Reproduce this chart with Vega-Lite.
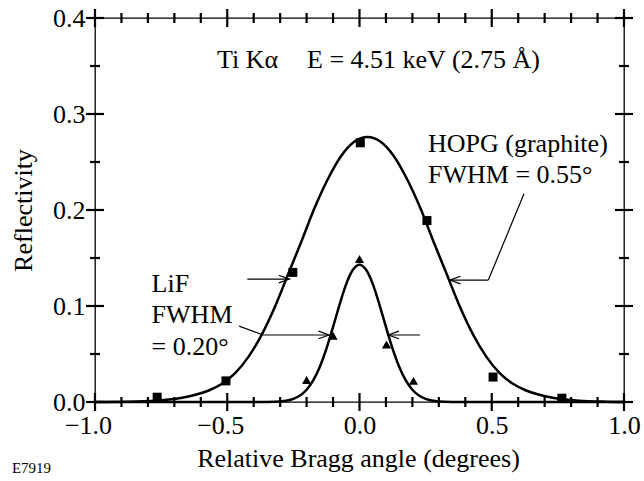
{
  "$schema": "https://vega.github.io/schema/vega-lite/v6.json",
  "width": 529,
  "height": 384,
  "autosize": {"type": "none"},
  "padding": {"left": 95, "top": 18, "right": 20, "bottom": 79},
  "config": {
    "font": "Liberation Serif",
    "view": {"stroke": "black", "strokeWidth": 1.3},
    "axis": {
      "domain": false, "grid": false, "ticks": false,
      "labelFont": "Liberation Serif", "labelFontSize": 26, "labelColor": "black",
      "titleFont": "Liberation Serif", "titleFontSize": 26, "titleFontWeight": "normal", "titleColor": "black",
      "labelFlush": false, "labelOverlap": false
    }
  },
  "datasets": {
    "hopg": [
      {"x": -1.0, "y": 0.0}, {"x": -0.87, "y": 0.0003}, {"x": -0.77, "y": 0.0013}, {"x": -0.72, "y": 0.0025},
      {"x": -0.67, "y": 0.0045}, {"x": -0.62, "y": 0.0075}, {"x": -0.57, "y": 0.012}, {"x": -0.52, "y": 0.019},
      {"x": -0.47, "y": 0.030}, {"x": -0.42, "y": 0.047}, {"x": -0.37, "y": 0.070}, {"x": -0.32, "y": 0.099},
      {"x": -0.27, "y": 0.133}, {"x": -0.22, "y": 0.167}, {"x": -0.17, "y": 0.202}, {"x": -0.12, "y": 0.232},
      {"x": -0.07, "y": 0.256}, {"x": -0.02, "y": 0.271}, {"x": 0.03, "y": 0.276}, {"x": 0.08, "y": 0.271},
      {"x": 0.13, "y": 0.256}, {"x": 0.18, "y": 0.232}, {"x": 0.23, "y": 0.202}, {"x": 0.28, "y": 0.167},
      {"x": 0.33, "y": 0.133}, {"x": 0.38, "y": 0.099}, {"x": 0.43, "y": 0.070}, {"x": 0.48, "y": 0.047},
      {"x": 0.53, "y": 0.030}, {"x": 0.58, "y": 0.019}, {"x": 0.63, "y": 0.012}, {"x": 0.68, "y": 0.0075},
      {"x": 0.73, "y": 0.0045}, {"x": 0.78, "y": 0.0025}, {"x": 0.83, "y": 0.0013}, {"x": 0.93, "y": 0.0003},
      {"x": 1.0, "y": 0.0}
    ],
    "lif": [
      {"x": -1.0, "y": 0.0}, {"x": -0.4, "y": 0.0}, {"x": -0.35, "y": 0.0001}, {"x": -0.3, "y": 0.0006},
      {"x": -0.25, "y": 0.0033}, {"x": -0.2, "y": 0.0128}, {"x": -0.175, "y": 0.0225}, {"x": -0.15, "y": 0.0368},
      {"x": -0.125, "y": 0.0557}, {"x": -0.1, "y": 0.0782}, {"x": -0.075, "y": 0.1018}, {"x": -0.05, "y": 0.123},
      {"x": -0.025, "y": 0.1377}, {"x": 0.0, "y": 0.143}, {"x": 0.025, "y": 0.1377}, {"x": 0.05, "y": 0.123},
      {"x": 0.075, "y": 0.1018}, {"x": 0.1, "y": 0.0782}, {"x": 0.125, "y": 0.0557}, {"x": 0.15, "y": 0.0368},
      {"x": 0.175, "y": 0.0225}, {"x": 0.2, "y": 0.0128}, {"x": 0.25, "y": 0.0033}, {"x": 0.3, "y": 0.0006},
      {"x": 0.35, "y": 0.0001}, {"x": 0.4, "y": 0.0}, {"x": 1.0, "y": 0.0}
    ],
    "hopg_pts": [
      {"x": -0.765, "y": 0.005}, {"x": -0.505, "y": 0.022}, {"x": -0.252, "y": 0.135}, {"x": 0.003, "y": 0.27},
      {"x": 0.255, "y": 0.189}, {"x": 0.505, "y": 0.026}, {"x": 0.765, "y": 0.004}
    ],
    "lif_pts": [
      {"x": -0.2, "y": 0.023}, {"x": -0.1, "y": 0.069}, {"x": 0.0, "y": 0.149}, {"x": 0.102, "y": 0.06}, {"x": 0.204, "y": 0.022}
    ],
    "xticks": [
      {"v": -1.0, "k": "major"}, {"v": -0.9, "k": "minor"}, {"v": -0.8, "k": "minor"}, {"v": -0.7, "k": "minor"},
      {"v": -0.6, "k": "minor"}, {"v": -0.5, "k": "major"}, {"v": -0.4, "k": "minor"}, {"v": -0.3, "k": "minor"},
      {"v": -0.2, "k": "minor"}, {"v": -0.1, "k": "minor"}, {"v": 0.0, "k": "major"}, {"v": 0.1, "k": "minor"},
      {"v": 0.2, "k": "minor"}, {"v": 0.3, "k": "minor"}, {"v": 0.4, "k": "minor"}, {"v": 0.5, "k": "major"},
      {"v": 0.6, "k": "minor"}, {"v": 0.7, "k": "minor"}, {"v": 0.8, "k": "minor"}, {"v": 0.9, "k": "minor"},
      {"v": 1.0, "k": "major"}
    ],
    "yticks": [
      {"v": 0.0, "k": "major"}, {"v": 0.05, "k": "minor"}, {"v": 0.1, "k": "major"}, {"v": 0.15, "k": "minor"},
      {"v": 0.2, "k": "major"}, {"v": 0.25, "k": "minor"}, {"v": 0.3, "k": "major"}, {"v": 0.35, "k": "minor"},
      {"v": 0.4, "k": "major"}
    ],
    "segments": [
      {"x": -0.424, "y": 0.128, "x2": -0.265, "y2": 0.128},
      {"x": 0.342, "y": 0.127, "x2": 0.487, "y2": 0.127},
      {"x": 0.487, "y": 0.127, "x2": 0.622, "y2": 0.217},
      {"x": -0.455, "y": 0.079, "x2": -0.364, "y2": 0.0698},
      {"x": -0.364, "y": 0.0698, "x2": -0.115, "y2": 0.0698},
      {"x": 0.229, "y": 0.0698, "x2": 0.109, "y2": 0.0698}
    ],
    "heads": [
      {"x": -0.265, "y": 0.128, "dir": "right"},
      {"x": -0.115, "y": 0.0698, "dir": "right"},
      {"x": 0.342, "y": 0.127, "dir": "left"},
      {"x": 0.109, "y": 0.0698, "dir": "left"}
    ],
    "labels": [
      {"x": -0.539, "y": 0.3484, "text": "Ti Kα"},
      {"x": -0.1985, "y": 0.3484, "text": "E = 4.51 keV (2.75 Å)"},
      {"x": 0.259, "y": 0.2607, "text": "HOPG (graphite)"},
      {"x": 0.259, "y": 0.2278, "text": "FWHM = 0.55°"},
      {"x": -0.786, "y": 0.1149, "text": "LiF"},
      {"x": -0.786, "y": 0.0819, "text": "FWHM"},
      {"x": -0.786, "y": 0.049, "text": "= 0.20°"}
    ],
    "code": [
      {"x": -1.314, "y": -0.074, "text": "E7919"}
    ]
  },
  "layer": [
    {
      "data": {"name": "hopg"},
      "mark": {"type": "line", "interpolate": "monotone", "color": "black", "strokeWidth": 2.5},
      "encoding": {
        "x": {"field": "x", "type": "quantitative",
          "scale": {"domain": [-1, 1], "nice": false, "zero": false},
          "axis": {"orient": "bottom", "values": [-1, -0.5, 0, 0.5, 1], "format": ".1f",
            "labelPadding": 31, "labelBaseline": "alphabetic",
            "labelOffset": {"condition": {"test": "datum.value < 0", "value": -7}, "value": 0},
            "title": "Relative Bragg angle (degrees)", "titleX": 263, "titleY": 64.7, "titleBaseline": "alphabetic"}},
        "y": {"field": "y", "type": "quantitative",
          "scale": {"domain": [0, 0.4], "nice": false, "zero": false},
          "axis": {"orient": "left", "values": [0, 0.1, 0.2, 0.3, 0.4], "format": ".1f",
            "labelPadding": 10, "labelBaseline": "middle",
            "title": "Reflectivity", "titleX": -64, "titleY": 192, "titleBaseline": "alphabetic", "titleAngle": 270}}
      }
    },
    {
      "data": {"name": "lif"},
      "mark": {"type": "line", "interpolate": "monotone", "color": "black", "strokeWidth": 2.5},
      "encoding": {
        "x": {"field": "x", "type": "quantitative"},
        "y": {"field": "y", "type": "quantitative"}
      }
    },
    {
      "data": {"name": "xticks"},
      "mark": {"type": "tick", "orient": "vertical", "thickness": 2.2, "color": "black", "opacity": 1},
      "encoding": {
        "x": {"field": "v", "type": "quantitative"},
        "y": {"datum": 0, "type": "quantitative"},
        "size": {"field": "k", "type": "nominal", "legend": null, "scale": {"domain": ["major", "minor"], "range": [18, 10]}}
      }
    },
    {
      "data": {"name": "xticks"},
      "mark": {"type": "tick", "orient": "vertical", "thickness": 2.2, "color": "black", "opacity": 1},
      "encoding": {
        "x": {"field": "v", "type": "quantitative"},
        "y": {"datum": 0.4, "type": "quantitative"},
        "size": {"field": "k", "type": "nominal", "legend": null, "scale": {"domain": ["major", "minor"], "range": [18, 10]}}
      }
    },
    {
      "data": {"name": "yticks"},
      "mark": {"type": "tick", "orient": "horizontal", "thickness": 2.2, "color": "black", "opacity": 1},
      "encoding": {
        "y": {"field": "v", "type": "quantitative"},
        "x": {"datum": -1, "type": "quantitative"},
        "size": {"field": "k", "type": "nominal", "legend": null, "scale": {"domain": ["major", "minor"], "range": [18, 10]}}
      }
    },
    {
      "data": {"name": "yticks"},
      "mark": {"type": "tick", "orient": "horizontal", "thickness": 2.2, "color": "black", "opacity": 1},
      "encoding": {
        "y": {"field": "v", "type": "quantitative"},
        "x": {"datum": 1, "type": "quantitative"},
        "size": {"field": "k", "type": "nominal", "legend": null, "scale": {"domain": ["major", "minor"], "range": [18, 10]}}
      }
    },
    {
      "data": {"name": "hopg_pts"},
      "mark": {"type": "point", "shape": "square", "filled": true, "color": "black", "size": 81, "opacity": 1},
      "encoding": {
        "x": {"field": "x", "type": "quantitative"},
        "y": {"field": "y", "type": "quantitative"}
      }
    },
    {
      "data": {"name": "lif_pts"},
      "mark": {"type": "point", "shape": "triangle-up", "filled": true, "color": "black", "size": 85, "opacity": 1},
      "encoding": {
        "x": {"field": "x", "type": "quantitative"},
        "y": {"field": "y", "type": "quantitative"}
      }
    },
    {
      "data": {"name": "segments"},
      "mark": {"type": "rule", "color": "black", "strokeWidth": 1.2},
      "encoding": {
        "x": {"field": "x", "type": "quantitative"},
        "y": {"field": "y", "type": "quantitative"},
        "x2": {"field": "x2"},
        "y2": {"field": "y2"}
      }
    },
    {
      "data": {"name": "heads"},
      "mark": {"type": "point", "filled": false, "stroke": "black", "strokeWidth": 1.2, "size": 450, "opacity": 1},
      "encoding": {
        "x": {"field": "x", "type": "quantitative"},
        "y": {"field": "y", "type": "quantitative"},
        "shape": {"field": "dir", "type": "nominal", "legend": null,
          "scale": {"domain": ["right", "left"], "range": ["M-1,-0.36L0,0L-1,0.36", "M1,-0.36L0,0L1,0.36"]}}
      }
    },
    {
      "data": {"name": "labels"},
      "mark": {"type": "text", "font": "Liberation Serif", "fontSize": 26, "align": "left", "baseline": "alphabetic", "color": "black"},
      "encoding": {
        "x": {"field": "x", "type": "quantitative"},
        "y": {"field": "y", "type": "quantitative"},
        "text": {"field": "text"}
      }
    },
    {
      "data": {"name": "code"},
      "mark": {"type": "text", "font": "Liberation Serif", "fontSize": 15, "align": "left", "baseline": "alphabetic", "color": "black"},
      "encoding": {
        "x": {"field": "x", "type": "quantitative"},
        "y": {"field": "y", "type": "quantitative"},
        "text": {"field": "text"}
      }
    }
  ]
}
